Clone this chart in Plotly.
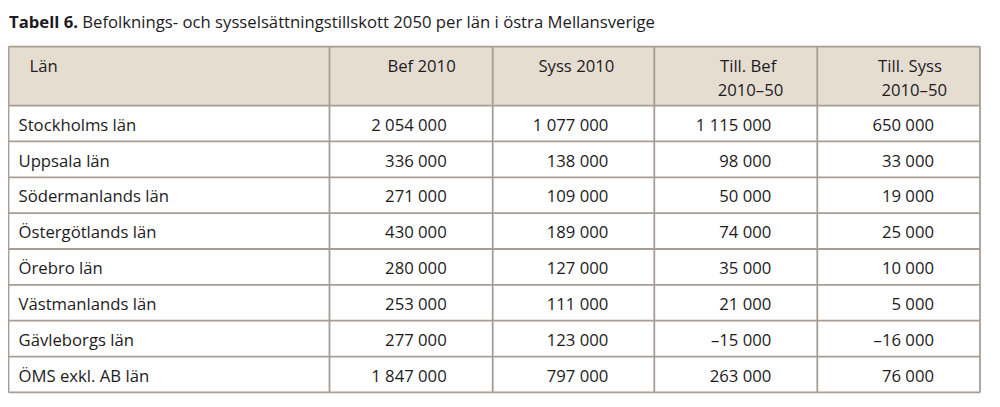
import plotly.graph_objects as go

# Table data
lan = ['Stockholms län', 'Uppsala län', 'Södermanlands län', 'Östergötlands län',
       'Örebro län', 'Västmanlands län', 'Gävleborgs län', 'ÖMS exkl. AB län']
bef_2010 = [2054000, 336000, 271000, 430000, 280000, 253000, 277000, 1847000]
syss_2010 = [1077000, 138000, 109000, 189000, 127000, 111000, 123000, 797000]
till_bef = [1115000, 98000, 50000, 74000, 35000, 21000, -15000, 263000]
till_syss = [650000, 33000, 19000, 25000, 10000, 5000, -16000, 76000]
header_line1 = ['Län', 'Bef 2010', 'Syss 2010', 'Till. Bef', 'Till. Syss']
header_line2 = ['', '', '', '2010–50', '2010–50']
title = '<b>Tabell 6.</b> Befolknings- och sysselsättningstillskott 2050 per län i östra Mellansverige'


def fmt(v):
    s = f'{abs(v):,}'.replace(',', '\u00a0')
    return ('–' if v < 0 else '') + s


# page is drawn 8px in from the top/left (body margin), so size to the remaining area
W, H = 992, 399
col_edges = [0.5, 321.5, 484.7, 646.3, 809.3, 972]
head_top, head_bot = 38.7, 97.6
row_h = 35.85
row_tops = [head_bot + i * row_h for i in range(len(lan) + 1)]

text_col = '#1d1b1e'
line_col = '#a89d95'
font = 'Open Sans'
fs = 16.7

fig = go.Figure()

# header background and grid lines
fig.add_shape(type='rect', x0=col_edges[0], x1=col_edges[-1], y0=head_top, y1=head_bot,
              fillcolor='#e6ddd1', line_width=0, layer='below')
for y in [head_top] + row_tops:
    fig.add_shape(type='line', x0=col_edges[0], x1=col_edges[-1], y0=y, y1=y,
                  line=dict(color=line_col, width=1.8))
for x in col_edges:
    fig.add_shape(type='line', x0=x, x1=x, y0=head_top, y1=row_tops[-1],
                  line=dict(color=line_col, width=1.8))

# header text
hy1 = head_top + 21
hy2 = head_top + 45
hdr_x = [col_edges[0] + 21, col_edges[2] - 37, col_edges[3] - 40, col_edges[4] - 41, col_edges[5] - 38]
fig.add_trace(go.Scatter(x=[hdr_x[0]], y=[hy1], text=[header_line1[0]], mode='text',
                         textposition='middle right', hoverinfo='skip'))
fig.add_trace(go.Scatter(x=hdr_x[1:], y=[hy1] * 4, text=header_line1[1:], mode='text',
                         textposition='middle left', hoverinfo='skip'))
fig.add_trace(go.Scatter(x=[hdr_x[3] + 7, hdr_x[4] + 5], y=[hy2] * 2, text=header_line2[3:], mode='text',
                         textposition='middle left', hoverinfo='skip'))

# body text
ys = [t + 21 for t in row_tops[:-1]]
fig.add_trace(go.Scatter(x=[col_edges[0] + 10] * len(lan), y=ys, text=lan, mode='text',
                         textposition='middle right', hoverinfo='skip'))
for i, vals in enumerate([bef_2010, syss_2010, till_bef, till_syss]):
    fig.add_trace(go.Scatter(x=[col_edges[i + 2] - 46] * len(vals), y=ys, text=[fmt(v) for v in vals],
                             mode='text', textposition='middle left', hoverinfo='skip'))

fig.update_traces(textfont=dict(family=font, size=fs, color=text_col), showlegend=False)

fig.add_annotation(text=title, x=0, y=1, xref='x', yref='y', xanchor='left', yanchor='top',
                   showarrow=False, borderpad=0, font=dict(family=font, size=16.7, color=text_col))

fig.update_xaxes(range=[0, W], visible=False, fixedrange=True)
fig.update_yaxes(range=[H, 0], visible=False, fixedrange=True)
fig.update_layout(
    width=W, height=H,
    margin=dict(l=0, r=0, t=0, b=0),
    paper_bgcolor='white', plot_bgcolor='white',
)

fig.write_html('out.html')
